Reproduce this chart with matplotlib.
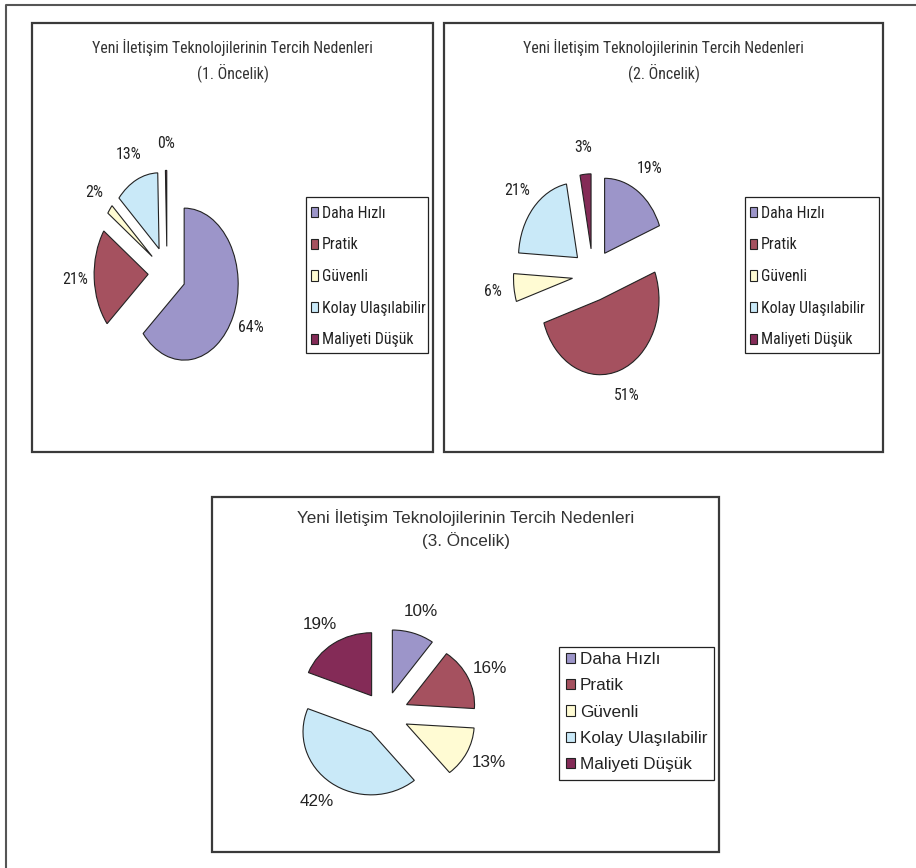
import matplotlib
matplotlib.use("Agg")
import matplotlib.pyplot as plt
from matplotlib import font_manager
from matplotlib.font_manager import FontProperties
from matplotlib.textpath import TextToPath
from matplotlib.patches import Rectangle
from matplotlib.lines import Line2D

W, H = 916, 868
DPI = 100

# ---------------------------------------------------------------- data
categories = ["Daha Hızlı", "Pratik", "Güvenli", "Kolay Ulaşılabilir", "Maliyeti Düşük"]
colors = ["#9C95C9", "#A5515F", "#FFFBD3", "#C9E9F8", "#842B57"]

title = "Yeni İletişim Teknolojilerinin Tercih Nedenleri"
subtitles = ["(1. Öncelik)", "(2. Öncelik)", "(3. Öncelik)"]

oncelik_1 = [64, 21, 2, 13, 0.4]   # the 0% slice is a thin sliver
oncelik_2 = [19, 51, 6, 21, 3]
oncelik_3 = [10, 16, 13, 42, 19]

# ---------------------------------------------------------------- fonts
# the two upper charts use a narrow face; take one if it is installed
REGULAR = ["Liberation Sans", "DejaVu Sans"]
installed = {f.name for f in font_manager.fontManager.ttflist}
narrow_name = next((n for n in ["Liberation Sans Narrow", "Arial Narrow", "Roboto Condensed"]
                    if n in installed), None)
NARROW = [narrow_name, "DejaVu Sans"] if narrow_name else REGULAR

_t2p = TextToPath()


def text_px(s, family, size):
    w, h, d = _t2p.get_text_width_height_descent(s, FontProperties(family=family, size=size), ismath=False)
    return w * DPI / 72


def fit_size(s, family, target_px, cap):
    return min(cap, 12 * target_px / text_px(s, family, 12))


# ---------------------------------------------------------------- layout (pixels)
fs_top = fit_size(title, NARROW, 284, 12.3)
fs_top_leg = min(fs_top, fit_size("Kolay Ulaşılabilir", NARROW, 105, 12.3))

panels = [
    {"values": oncelik_1, "sub": subtitles[0], "box": (32, 23, 433, 452),
     "center": (167, 273), "r": (54, 76), "legend_box": (306, 197, 428, 353),
     "row0": 213, "pitch": 31, "hx": 5, "hlen": 7, "hgap": 4, "hh": 10,
     "title_y": (47, 73), "font": NARROW, "fs": fs_top, "fs_leg": fs_top_leg},
    {"values": oncelik_2, "sub": subtitles[1], "box": (444, 23, 883, 452),
     "center": (593, 275), "r": (59, 75), "legend_box": (745, 197, 879, 353),
     "row0": 213, "pitch": 31, "hx": 5, "hlen": 7, "hgap": 4, "hh": 10,
     "title_y": (47, 73), "font": NARROW, "fs": fs_top, "fs_leg": fs_top_leg},
    {"values": oncelik_3, "sub": subtitles[2], "box": (212, 497, 719, 852),
     "center": (385, 714), "r": (68, 63), "legend_box": (559, 647, 714, 780),
     "row0": 660, "pitch": 26.5, "hx": 7, "hlen": 9, "hgap": 5, "hh": 9,
     "title_y": (518, 541), "font": REGULAR, "fs": 12.3, "fs_leg": 12.3},
]


def fx(x):
    return x / W


def fy(y):
    return 1 - y / H


fig = plt.figure(figsize=(W / DPI, H / DPI), dpi=DPI)
fig.patch.set_facecolor("white")

# outer border (only top and left are visible)
fig.add_artist(Line2D([fx(6), fx(6), fx(916)], [fy(868), fy(5), fy(5)],
                      transform=fig.transFigure, color="#555555", lw=1.5))

for p in panels:
    x0, y0, x1, y1 = p["box"]
    fig.add_artist(Rectangle((fx(x0), fy(y1)), (x1 - x0) / W, (y1 - y0) / H,
                             transform=fig.transFigure, fill=False,
                             edgecolor="#3a3a3a", lw=1.6))

    cx = (x0 + x1) / 2
    for ty, s in zip(p["title_y"], [title, p["sub"]]):
        fig.text(fx(cx), fy(ty), s, ha="center", va="center",
                 fontsize=p["fs"], family=p["font"], color="#333333")

    pcx, pcy = p["center"]
    rx, ry = p["r"]
    ax = fig.add_axes([fx(pcx - 2 * rx), fy(pcy + 2 * ry), 4 * rx / W, 4 * ry / H])
    wedges, texts, autotexts = ax.pie(
        p["values"], colors=colors, startangle=90, counterclock=False,
        explode=[0.35] * len(p["values"]),
        autopct=lambda v: f"{v:.0f}%", pctdistance=1.36,
        wedgeprops={"edgecolor": "#222222", "linewidth": 0.8},
        textprops={"fontsize": p["fs"], "family": p["font"], "color": "#222222"})
    ax.set_aspect("auto")
    ax.set_xlim(-2, 2)
    ax.set_ylim(-2, 2)
    ax.axis("off")

    # legend: frame drawn separately so its size matches the original box
    lx0, ly0, lx1, ly1 = p["legend_box"]
    fig.add_artist(Rectangle((fx(lx0), fy(ly1)), (lx1 - lx0) / W, (ly1 - ly0) / H,
                             transform=fig.transFigure, fill=False,
                             edgecolor="#222222", lw=0.9))
    fpx = p["fs_leg"] * DPI / 72
    row_h = 0.9 * fpx
    leg = ax.legend(wedges, categories, loc="upper left",
                    bbox_to_anchor=(fx(lx0 + p["hx"]), fy(p["row0"] - row_h / 2)),
                    bbox_transform=fig.transFigure,
                    borderaxespad=0, borderpad=0, frameon=False,
                    prop={"family": p["font"], "size": p["fs_leg"]},
                    handlelength=p["hlen"] / fpx, handleheight=p["hh"] / fpx,
                    handletextpad=p["hgap"] / fpx,
                    labelspacing=(p["pitch"] - row_h) / fpx)
    for t in leg.get_texts():
        t.set_color("#222222")

fig.savefig("out.png", dpi=DPI)
